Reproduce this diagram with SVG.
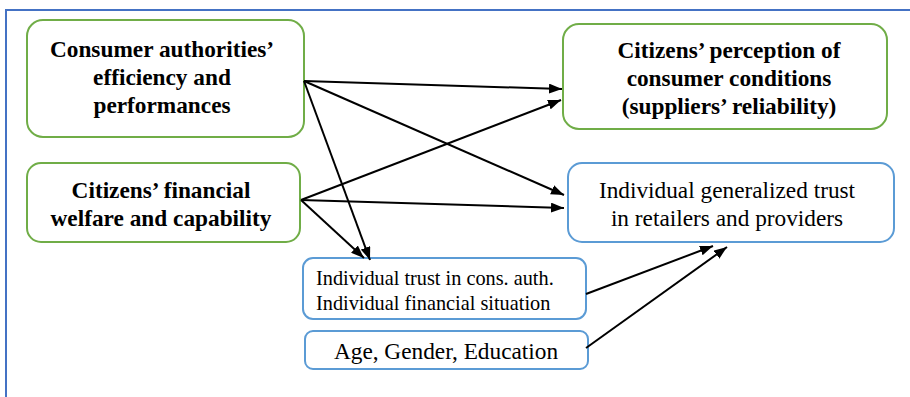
<svg xmlns="http://www.w3.org/2000/svg" width="910" height="397" viewBox="0 0 910 397">
<style>
.g{fill:#fff;stroke:#70AD47;stroke-width:2}
.b{fill:#fff;stroke:#5B9BD5;stroke-width:2}
text{font-family:'Liberation Serif','Times New Roman','DejaVu Serif',serif;fill:#000}
.tb{font-weight:bold;font-size:23.3px;text-anchor:middle}
.tn{font-size:23.3px;text-anchor:middle}
.ts{font-size:20.3px}
.c{stroke:#000;stroke-width:2;fill:none;marker-end:url(#ah)}
</style>
<defs>
<marker id="ah" viewBox="0 0 13 10" refX="13" refY="5" markerWidth="13" markerHeight="10" markerUnits="userSpaceOnUse" orient="auto">
<path d="M0,0 L13,5 L0,10 Z" fill="#000"/>
</marker>
</defs>
<rect width="910" height="397" fill="#fff"/>
<path d="M6,397 V10 H910" fill="none" stroke="#4472C4" stroke-width="2"/>
<g id="n1">
<rect class="g" x="27" y="20" width="277" height="117" rx="16"/>
<text class="tb" x="162" y="57">Consumer authorities’</text>
<text class="tb" x="162" y="85">efficiency and</text>
<text class="tb" x="162" y="113">performances</text>
</g>
<g id="n2">
<rect class="g" x="563" y="24" width="324" height="105" rx="16"/>
<text class="tb" x="729" y="58">Citizens’ perception of</text>
<text class="tb" x="729" y="86">consumer conditions</text>
<text class="tb" x="729" y="114">(suppliers’ reliability)</text>
</g>
<g id="n3">
<rect class="g" x="27" y="163" width="273" height="79" rx="14"/>
<text class="tb" x="161" y="198">Citizens’ financial</text>
<text class="tb" x="161" y="226">welfare and capability</text>
</g>
<g id="n4">
<rect class="b" x="568" y="163" width="326" height="79" rx="14"/>
<text class="tn" x="727" y="198">Individual generalized trust</text>
<text class="tn" x="727" y="226">in retailers and providers</text>
</g>
<g id="n5">
<rect class="b" x="303" y="258" width="283" height="61" rx="10"/>
<text class="ts" x="316" y="285">Individual trust in cons. auth.</text>
<text class="ts" x="316" y="310">Individual financial situation</text>
</g>
<g id="n6">
<rect class="b" x="305" y="331" width="283" height="38" rx="8"/>
<text class="tn" x="446" y="359">Age, Gender, Education</text>
</g>
<g id="connectors">
<line class="c" x1="304" y1="81" x2="562" y2="89"/>
<line class="c" x1="304" y1="81" x2="564" y2="195"/>
<line class="c" x1="304" y1="81" x2="370" y2="260"/>
<line class="c" x1="301" y1="200" x2="561" y2="100"/>
<line class="c" x1="301" y1="200" x2="564" y2="208"/>
<line class="c" x1="301" y1="200" x2="364" y2="258"/>
<line class="c" x1="586" y1="294" x2="713" y2="246"/>
<line class="c" x1="586" y1="348" x2="727" y2="247"/>
</g>
</svg>
